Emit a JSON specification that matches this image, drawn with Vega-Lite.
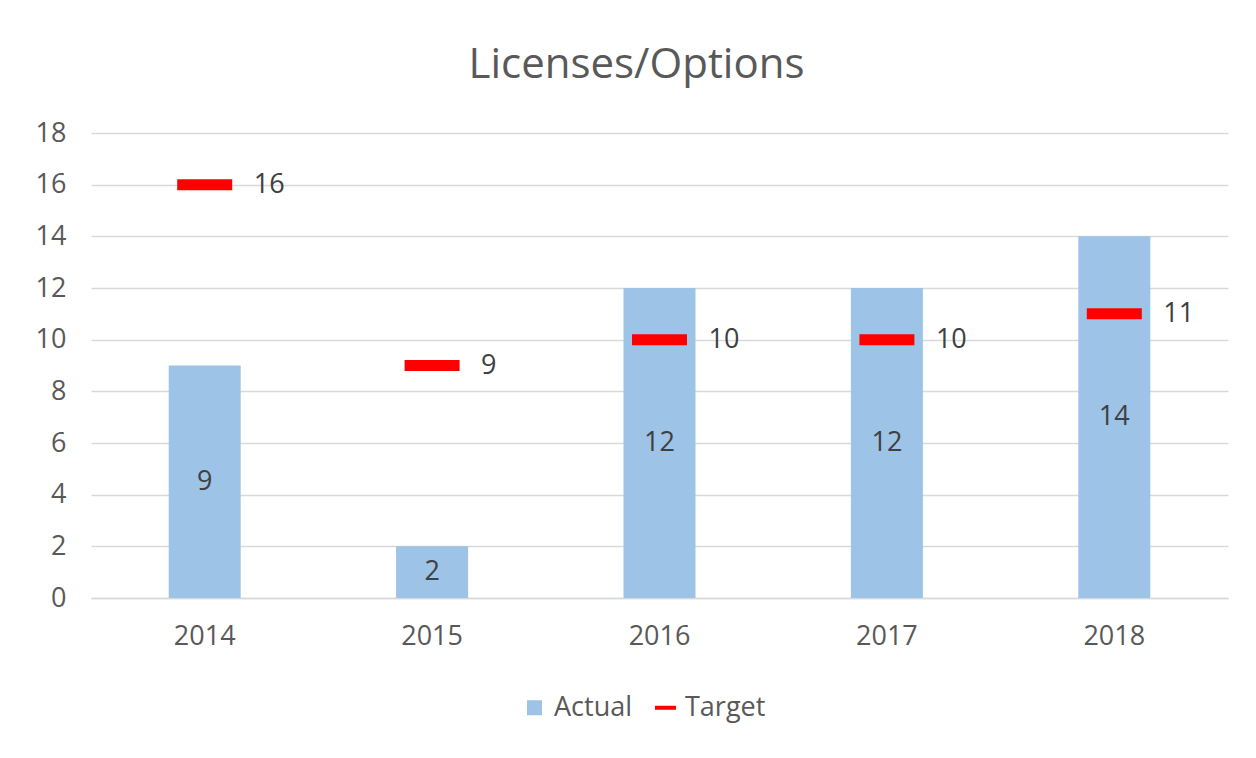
{
  "$schema": "https://vega.github.io/schema/vega-lite/v6.json",
  "width": 1137,
  "height": 465,
  "autosize": {"type": "none"},
  "padding": {"left": 91, "top": 133, "right": 28, "bottom": 160},
  "background": "white",
  "title": {
    "text": "Licenses/Options",
    "fontSize": 42,
    "font": "Open Sans",
    "fontWeight": "normal",
    "color": "#595959",
    "anchor": "middle",
    "dx": -23,
    "offset": 32
  },
  "data": {
    "values": [
      {"year": "2014", "actual": 9, "target": 16},
      {"year": "2015", "actual": 2, "target": 9},
      {"year": "2016", "actual": 12, "target": 10},
      {"year": "2017", "actual": 12, "target": 10},
      {"year": "2018", "actual": 14, "target": 11}
    ]
  },
  "config": {
    "view": {"stroke": null},
    "font": "Open Sans",
    "axis": {
      "labelFont": "Open Sans",
      "labelFontSize": 27,
      "labelColor": "#595959",
      "gridColor": "#d9d9d9",
      "gridWidth": 1.3,
      "domainColor": "#d9d9d9",
      "ticks": false,
      "title": null
    }
  },
  "resolve": {"scale": {"y": "independent"}},
  "encoding": {
    "x": {
      "field": "year",
      "type": "nominal",
      "scale": {"paddingInner": 0, "paddingOuter": 0},
      "axis": {"labelAngle": 0, "labelPadding": 25, "domain": true, "domainWidth": 1.3, "grid": false}
    }
  },
  "layer": [
    {
      "layer": [
        {
          "mark": {"type": "bar", "width": 72, "color": "#9DC3E6"},
          "encoding": {
            "y": {
              "field": "actual",
              "type": "quantitative",
              "scale": {"domain": [0, 18]},
              "axis": {"values": [0, 2, 4, 6, 8, 10, 12, 14, 16, 18], "domain": false, "labelPadding": 25}
            },
            "color": {
              "datum": "Actual",
              "scale": {"domain": ["Actual", "Target"], "range": ["#9DC3E6", "#FF0000"]},
              "legend": {
                "title": null,
                "orient": "none",
                "direction": "horizontal",
                "legendX": 430,
                "legendY": 561,
                "labelFontSize": 27,
                "labelFont": "Open Sans",
                "labelColor": "#595959",
                "symbolSize": 225,
                "columnPadding": 14,
                "labelOffset": 6,
                "symbolType": "square",
                "encode": {
                  "symbols": {
                    "update": {
                      "shape": {"signal": "datum.value === 'Target' ? 'stroke' : 'square'"},
                      "stroke": {"signal": "datum.value === 'Target' ? '#FF0000' : null"},
                      "size": {"signal": "datum.value === 'Target' ? 440 : 225"},
                      "strokeWidth": {"value": 4},
                      "fillOpacity": {"value": 1}
                    }
                  }
                }
              }
            }
          }
        },
        {
          "mark": {"type": "tick", "size": 55, "thickness": 11, "opacity": 1},
          "encoding": {
            "y": {"field": "target", "type": "quantitative"},
            "color": {"datum": "Target"}
          }
        },
        {
          "mark": {"type": "text", "fontSize": 27, "color": "#404040", "baseline": "middle", "align": "left", "dx": 49},
          "encoding": {
            "y": {"field": "target", "type": "quantitative"},
            "text": {"field": "target", "type": "quantitative"}
          }
        }
      ]
    },
    {
      "mark": {"type": "text", "fontSize": 27, "color": "#404040", "baseline": "middle"},
      "encoding": {
        "y": {"field": "actual", "type": "quantitative", "scale": {"domain": [0, 36]}, "axis": null},
        "text": {"field": "actual", "type": "quantitative"}
      }
    }
  ]
}
